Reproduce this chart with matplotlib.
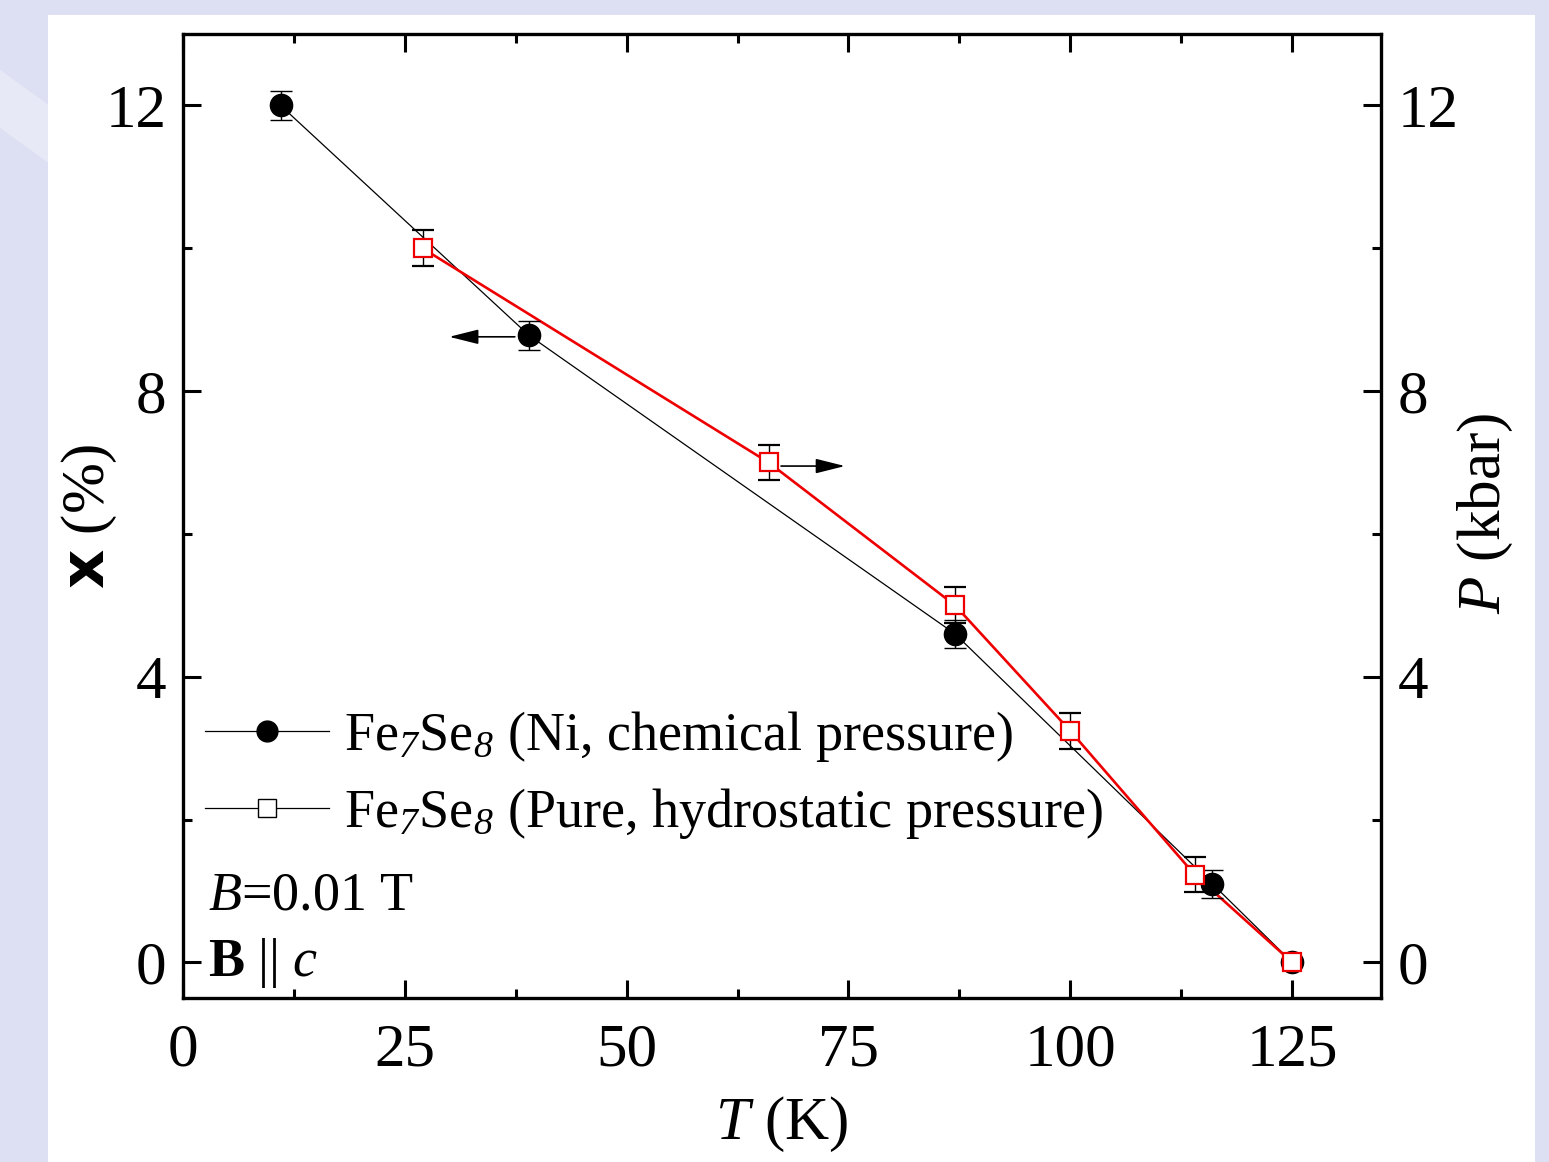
import matplotlib
matplotlib.use("Agg")
import matplotlib.pyplot as plt
from matplotlib.lines import Line2D
from matplotlib.patches import Rectangle, Polygon

plt.rcParams['font.family'] = ['Liberation Serif', 'DejaVu Serif']
plt.rcParams['mathtext.fontset'] = 'custom'
plt.rcParams['mathtext.rm'] = 'Liberation Serif'
plt.rcParams['mathtext.it'] = 'Liberation Serif:italic'
plt.rcParams['mathtext.bf'] = 'Liberation Serif:bold'
plt.rcParams['mathtext.sf'] = 'DejaVu Sans:bold'
# italic digits for the subscripts ('it' class forces digits upright)
plt.rcParams['mathtext.cal'] = 'Liberation Serif:italic'

# chemical pressure (Ni doping): T (K) vs x (%)
T_ni = [11, 39, 87, 116, 125]
x_ni = [12.0, 8.78, 4.6, 1.1, 0.0]
x_ni_err = [0.2, 0.2, 0.2, 0.2, 0.0]

# hydrostatic pressure (pure): T (K) vs P (kbar)
T_p = [27, 66, 87, 100, 114, 125]
P_p = [10.0, 7.0, 5.0, 3.24, 1.23, 0.0]
P_p_err = [0.25, 0.25, 0.25, 0.25, 0.25, 0.0]

label_ni = r"Fe$_{\mathcal{7}}$Se$_{\mathcal{8}}$ (Ni, chemical pressure)"
label_p = r"Fe$_{\mathcal{7}}$Se$_{\mathcal{8}}$ (Pure, hydrostatic pressure)"

FS = 44     # ticks / axis labels
FS_L = 39   # legend / annotations

fig = plt.figure(figsize=(15.49, 11.62), dpi=100)
fig.patch.set_facecolor('#dde0f2')
# lighter diagonal stripe + white panel (page background)
fig.patches.append(Polygon([[0, 0.94], [0, 0.89], [0.031, 0.86], [0.031, 0.91]],
                           closed=True, transform=fig.transFigure,
                           facecolor='#e7e9f6', edgecolor='none', zorder=-5))
fig.patches.append(Rectangle((0.031, 0.0), 0.96, 0.987, transform=fig.transFigure,
                             facecolor='white', edgecolor='none', zorder=-5))

ax = fig.add_axes([0.1181, 0.1411, 0.7734, 0.8296])
ax.set_xlim(0, 135)
ax.set_ylim(-0.5, 13)

ax.plot(T_ni, x_ni, color='black', lw=0.9, zorder=2)
ax.errorbar(T_ni, x_ni, yerr=x_ni_err, fmt='o', color='black', ms=16,
            ecolor='black', elinewidth=1, capsize=8, capthick=1, zorder=4)

ax.plot(T_p, P_p, color='#ee0000', lw=1.9, zorder=3)
ax.errorbar(T_p, P_p, yerr=P_p_err, fmt='s', mfc='white', mec='#ee0000',
            mew=1.6, ms=13, ecolor='black', elinewidth=1, capsize=8,
            capthick=1, zorder=5)

# arrows pointing to the relevant axis
arrow_kw = dict(arrowstyle='-|>,head_length=1.8,head_width=0.45',
                color='black', lw=1.2, shrinkA=0, shrinkB=0)
ax.annotate('', xy=(30.0, 8.76), xytext=(37.4, 8.76), arrowprops=arrow_kw)
ax.annotate('', xy=(74.6, 6.95), xytext=(67.4, 6.95), arrowprops=arrow_kw)

ax.set_xticks([0, 25, 50, 75, 100, 125])
ax.set_xticks([12.5, 37.5, 62.5, 87.5, 112.5], minor=True)
ax.set_yticks([0, 4, 8, 12])
ax.set_yticks([2, 6, 10], minor=True)
ax.tick_params(which='both', direction='in', top=True, right=True,
               labelleft=True, labelright=True, labelsize=FS, width=2.2, pad=12)
ax.tick_params(axis='x', which='both', pad=18)
ax.tick_params(which='major', length=13)
ax.tick_params(which='minor', length=6.5)
for s in ax.spines.values():
    s.set_linewidth(2.4)

ax.set_xlabel(r"$T$ (K)", fontsize=FS, labelpad=12)
ax.set_ylabel(r"$\mathsf{x}$ (%)", fontsize=FS)
ax.yaxis.set_label_coords(-0.053, 0.5)
fig.text(1485 / 1549, 1 - 513 / 1162, r"$P$ (kbar)", fontsize=FS,
         rotation=90, ha='center', va='center')

handles = [
    Line2D([], [], color='black', lw=0.9, marker='o', ms=15, mfc='black', mec='black'),
    Line2D([], [], color='black', lw=0.9, marker='s', ms=13, mfc='white', mec='black', mew=1),
]
ax.legend(handles, [label_ni, label_p], loc='upper left',
          bbox_to_anchor=(0.0, 0.322), frameon=False, fontsize=FS_L,
          handlelength=2.3, handletextpad=0.28, labelspacing=0.4,
          borderaxespad=0.3, borderpad=0.1)

ax.text(0.021, 0.106, r"$B$=0.01 T", transform=ax.transAxes, fontsize=FS_L,
        ha='left', va='center')
ax.text(0.021, 0.036, r"$\mathbf{B}$ || $c$", transform=ax.transAxes, fontsize=FS_L,
        ha='left', va='center')

fig.savefig("out.png", dpi=100, facecolor=fig.get_facecolor())
